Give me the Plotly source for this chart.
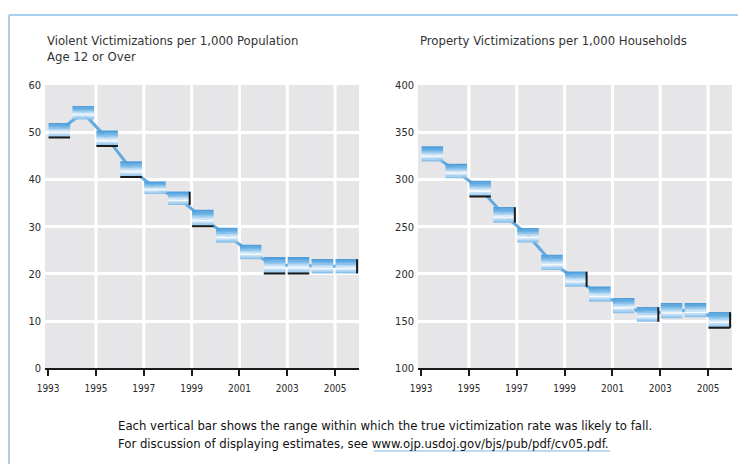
import plotly.graph_objects as go

W, H = 746, 464
OFFSET = 8  # page body margin
FW, FH = W - OFFSET, H - OFFSET

years = list(range(1993, 2006))
tick_years = [1993, 1995, 1997, 1999, 2001, 2003, 2005]
tick_labels = [str(y) for y in tick_years]

violent_low = [48.9, 52.7, 47.1, 40.5, 36.9, 34.6, 30.1, 26.6, 23.1, 20.1, 20.1, 20.1, 20.1]
violent_high = [51.9, 55.5, 50.3, 43.8, 39.5, 37.4, 33.5, 29.7, 26.1, 23.5, 23.5, 23.1, 23.1]
violent_bottom_edge = [1993, 1995, 1996, 1999, 2002, 2003]
violent_right_edge = [1998, 2005]
violent_yticks = [0, 10, 20, 30, 40, 50, 60]

property_low = [318.9, 301.3, 281.8, 254.2, 233.1, 204.1, 186.4, 170.6, 158.3, 149.4, 153.0, 154.0, 143.0]
property_high = [334.7, 316.4, 298.4, 270.5, 248.3, 220.0, 202.3, 186.4, 174.2, 164.6, 168.9, 168.9, 159.3]
property_bottom_edge = [1995, 2005]
property_right_edge = [1996, 1999, 2002, 2005]
property_yticks = [100, 150, 200, 250, 300, 350, 400]

title_left_1 = "Violent Victimizations per 1,000 Population"
title_left_2 = "Age 12 or Over"
title_right = "Property Victimizations per 1,000 Households"
note_1 = "Each vertical bar shows the range within which the true victimization rate was likely to fall."
note_2 = "For discussion of displaying estimates, see www.ojp.usdoj.gov/bjs/pub/pdf/cv05.pdf."

FONT = "Liberation Sans Narrow, DejaVu Sans Condensed, Arial Narrow, sans-serif"
BAND_W = 0.9
OFF = 0.47
# gradient from bottom to top
slice_colors = ["#8cc2ea", "#a4cff0", "#c4e1f6", "#f4f9fd", "#d4e9f8", "#b2d7f2",
                "#8ec4ec", "#72b4e5", "#5ea9e0", "#509fdc"]

fig = go.Figure()


def px(v):
    return (v - OFFSET) / FW


def py(v):
    return 1 - (v - OFFSET) / FH


def add_panel(xa, ya, low, high, bottom_edge, right_edge):
    n = len(slice_colors)
    mids = [(l + h) / 2 for l, h in zip(low, high)]
    cx = [yr + OFF for yr in years]
    # connector drawn first so the bands cover it
    fig.add_trace(go.Scatter(x=cx, y=mids, mode="lines", line=dict(color="#62aadf", width=3),
                             xaxis=xa, yaxis=ya, hoverinfo="skip", showlegend=False))
    for k, col in enumerate(slice_colors):
        px_, py_ = [], []
        for yr, l, h in zip(years, low, high):
            x0, x1 = yr + OFF - BAND_W / 2, yr + OFF + BAND_W / 2
            b0 = l + (h - l) * k / n
            b1 = l + (h - l) * (k + 1) / n + (h - l) * 0.02
            px_ += [x0, x1, x1, x0, x0, None]
            py_ += [b0, b0, b1, b1, b0, None]
        fig.add_trace(go.Scatter(x=px_, y=py_, mode="none", fill="toself", fillcolor=col,
                                 xaxis=xa, yaxis=ya, hoverinfo="skip", showlegend=False))
    bx, by = [], []
    for yr, l, h in zip(years, low, high):
        if yr in bottom_edge:
            bx += [yr + OFF - BAND_W / 2, yr + OFF + BAND_W / 2, None]
            by += [l, l, None]
        if yr in right_edge:
            bx += [yr + OFF + BAND_W / 2, yr + OFF + BAND_W / 2, None]
            by += [l, h, None]
    fig.add_trace(go.Scatter(x=bx, y=by, mode="lines", line=dict(color="#1a1a1a", width=2),
                             xaxis=xa, yaxis=ya, hoverinfo="skip", showlegend=False))


add_panel("x", "y", violent_low, violent_high, violent_bottom_edge, violent_right_edge)
add_panel("x2", "y2", property_low, property_high, property_bottom_edge, property_right_edge)

ydom = [py(368.3), py(85)]
xcommon = dict(range=[1992.87, 2006], tickvals=tick_years, ticktext=tick_labels, showgrid=False,
               showline=True, linecolor="#1a1a1a", linewidth=2, ticks="outside", ticklen=6,
               tickwidth=1.5, tickcolor="#1a1a1a", zeroline=False, fixedrange=True, automargin=False,
               tickfont=dict(family=FONT, size=10, color="#2a2a2a"), ticklabelstandoff=4)
ycommon = dict(showgrid=True, gridcolor="#ffffff", gridwidth=3, zeroline=False, showline=False,
               ticks="", tickfont=dict(family=FONT, size=11, color="#2a2a2a"), fixedrange=True,
               ticklabelstandoff=3, automargin=False)

fig.update_layout(
    template="none",
    width=FW, height=FH, margin=dict(l=0, r=0, t=0, b=0, pad=0, autoexpand=False),
    paper_bgcolor="#ffffff", plot_bgcolor="#e6e6e8",
    xaxis=dict(domain=[px(45), px(359)], anchor="y", **xcommon),
    yaxis=dict(domain=ydom, anchor="x", range=[0, 60], tickvals=violent_yticks, **ycommon),
    xaxis2=dict(domain=[px(418), px(732)], anchor="y2", **xcommon),
    yaxis2=dict(domain=ydom, anchor="x2", range=[100, 400], tickvals=property_yticks, **ycommon),
    showlegend=False,
)

shapes = []
for xa, ya, ymax, ymin in [("x", "y", 60, 0), ("x2", "y2", 400, 100)]:
    for t in tick_years[1:]:
        shapes.append(dict(type="line", xref=xa, yref=ya, x0=t, x1=t, y0=ymin, y1=ymax,
                           line=dict(color="#ffffff", width=3), layer="below"))
shapes.append(dict(type="line", xref="paper", yref="paper", x0=px(9), x1=1.01, y0=py(15), y1=py(15),
                   line=dict(color="#a9cfee", width=2)))
shapes.append(dict(type="line", xref="paper", yref="paper", x0=px(9), x1=px(9), y0=py(15), y1=-0.01,
                   line=dict(color="#a9cfee", width=2)))
shapes.append(dict(type="line", xref="paper", yref="paper", x0=px(374), x1=px(610), y0=py(451), y1=py(451),
                   line=dict(color="#a9cfee", width=1.5)))
fig.update_layout(shapes=shapes)

ann = []
tf = dict(family=FONT, size=13, color="#333333")
ann.append(dict(text=title_left_1, x=px(45), y=py(40), xref="paper", yref="paper",
                xanchor="left", yanchor="middle", showarrow=False, font=tf))
ann.append(dict(text=title_left_2, x=px(45), y=py(56), xref="paper", yref="paper",
                xanchor="left", yanchor="middle", showarrow=False, font=tf))
ann.append(dict(text=title_right, x=px(418), y=py(40), xref="paper", yref="paper",
                xanchor="left", yanchor="middle", showarrow=False, font=tf))
nf = dict(family=FONT, size=13, color="#111111")
ann.append(dict(text=note_1, x=px(116), y=py(425), xref="paper", yref="paper",
                xanchor="left", yanchor="middle", showarrow=False, font=nf))
ann.append(dict(text=note_2, x=px(116), y=py(443), xref="paper", yref="paper",
                xanchor="left", yanchor="middle", showarrow=False, font=nf))
fig.update_layout(annotations=ann)

fig.write_html("out.html")
